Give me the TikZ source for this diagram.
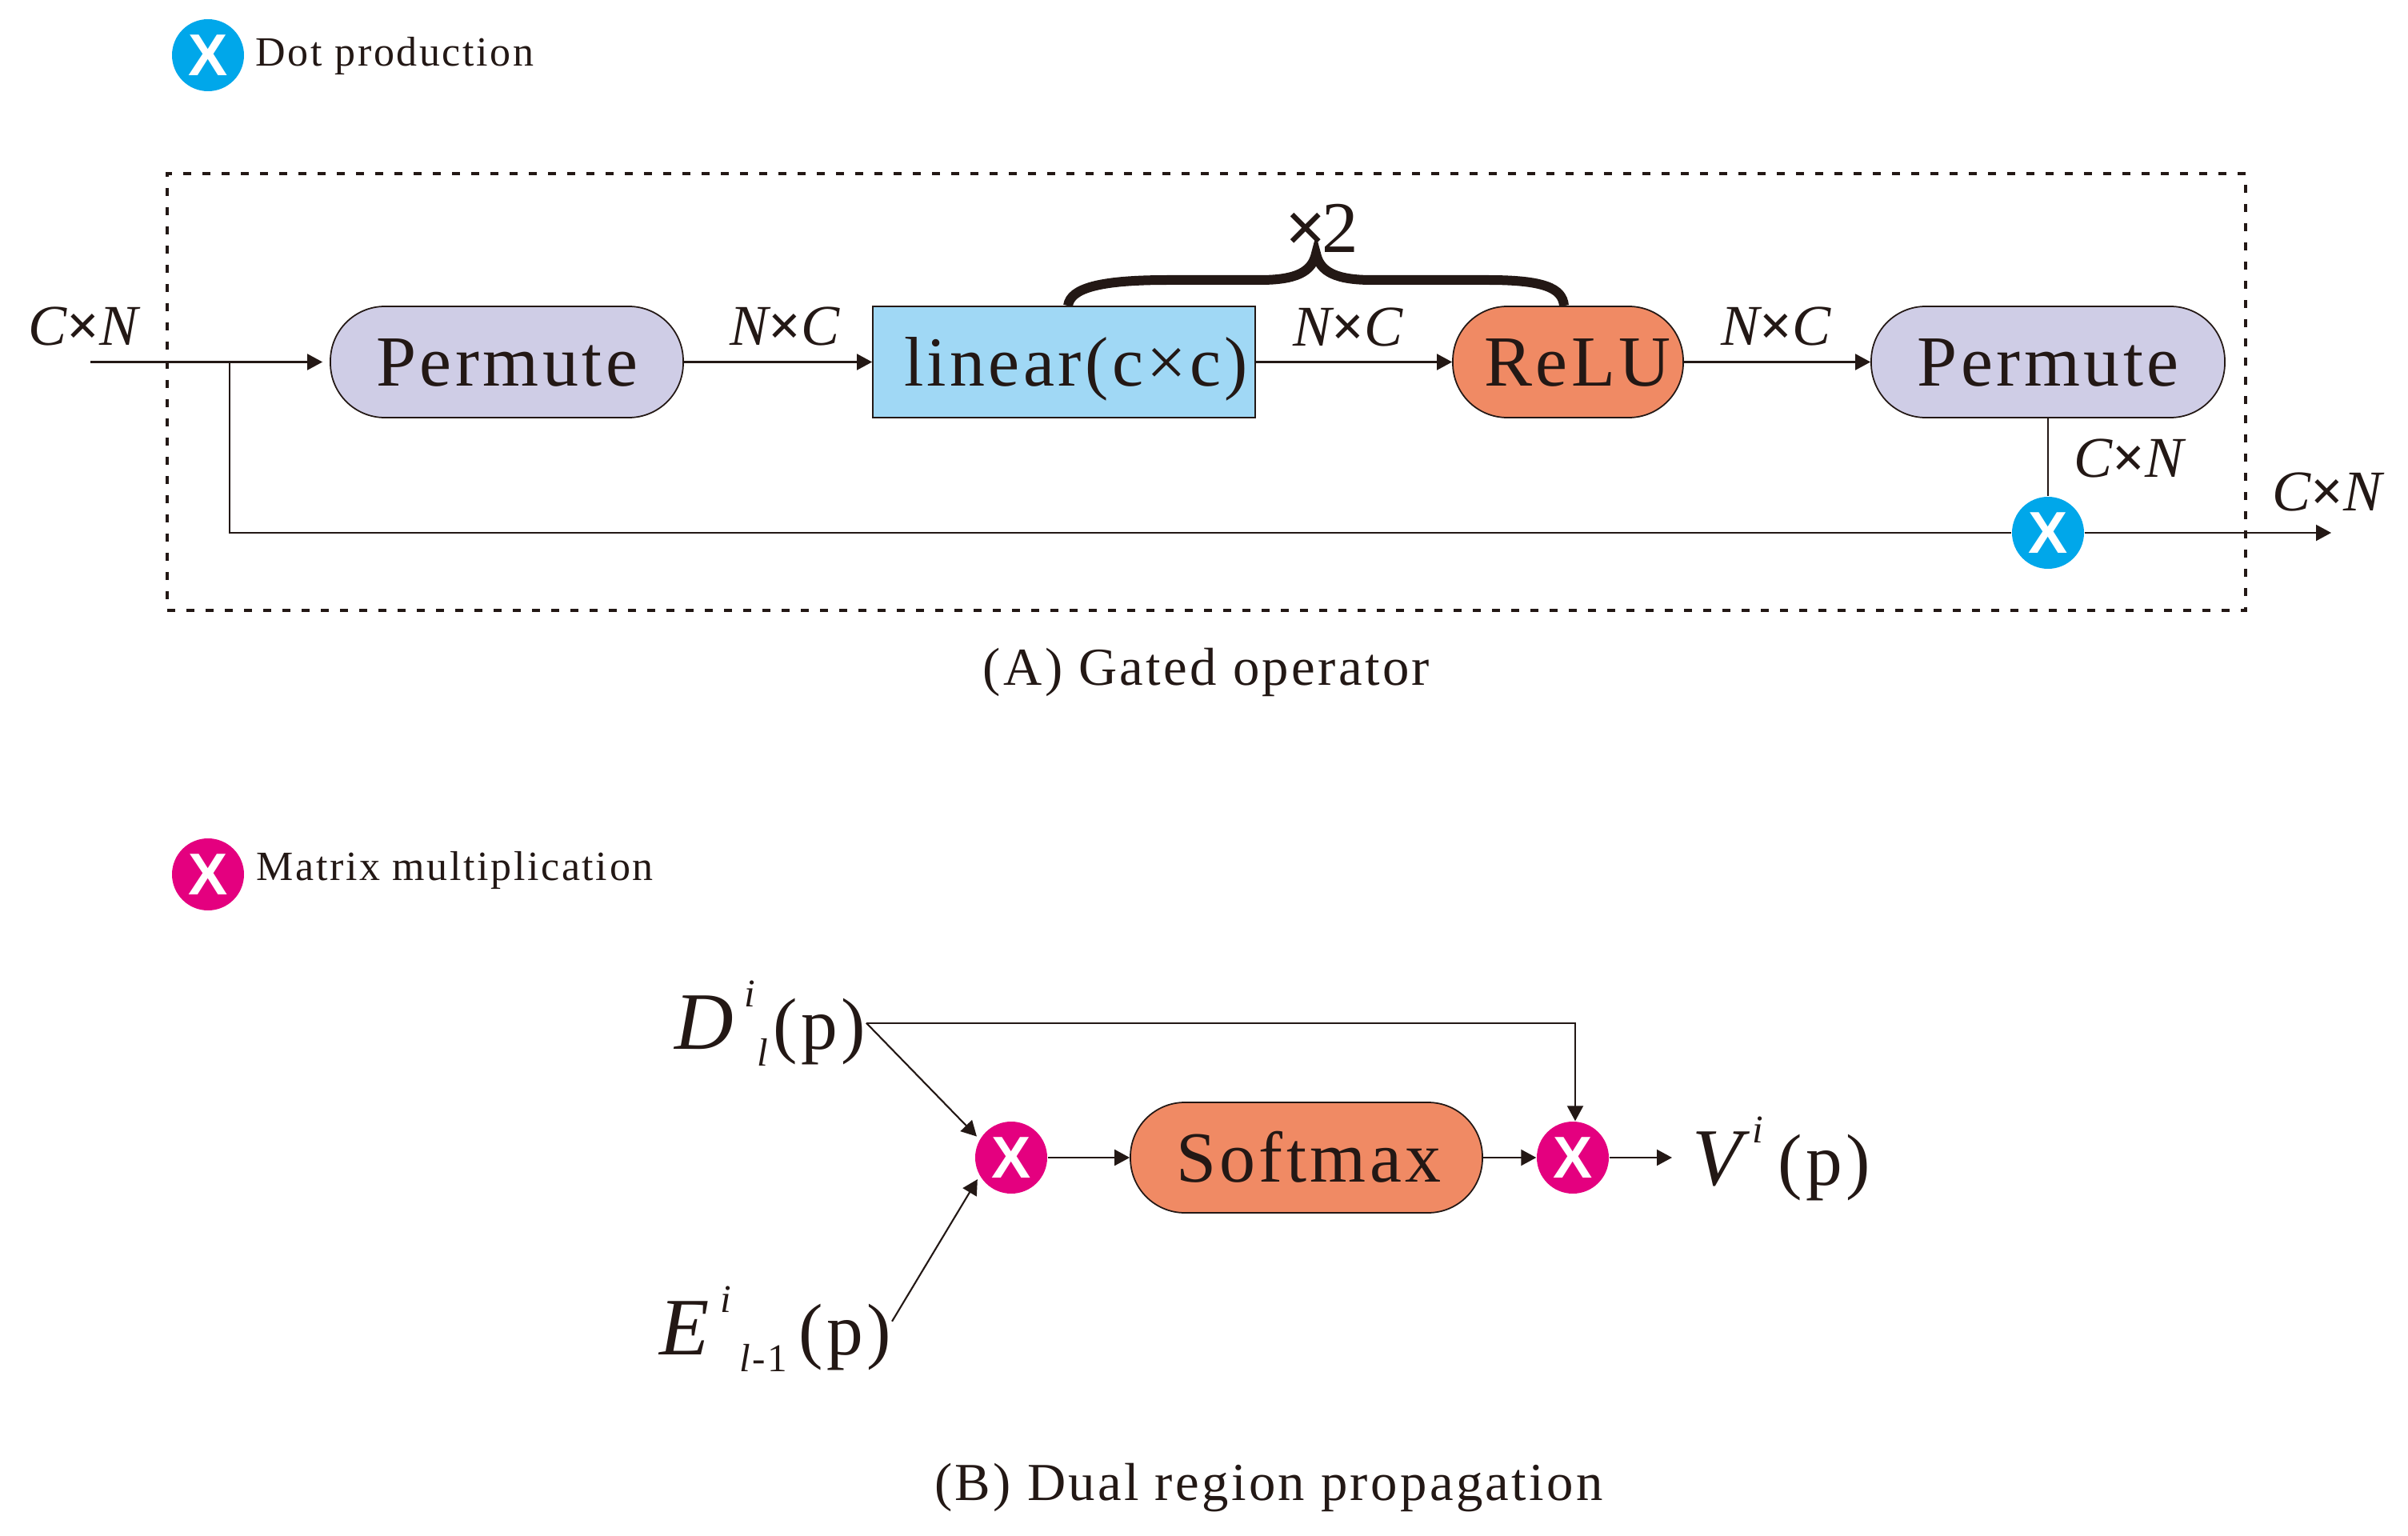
\documentclass[tikz,border=0pt]{standalone}
\usepackage{fontspec}
\setmainfont[LetterSpace=5]{Liberation Serif}
\newfontfamily\crossfont{Liberation Sans}
\usepackage{xcolor}
\usetikzlibrary{arrows.meta, calc, positioning}
\definecolor{inkc}{HTML}{231815}
\definecolor{lavc}{HTML}{CFCDE6}
\definecolor{skyc}{HTML}{A0D8F5}
\definecolor{coralc}{HTML}{F08A64}
\definecolor{dotc}{HTML}{00A7EA}
\definecolor{matc}{HTML}{E4007F}
% letter with index above and index below, then (p)
\newcommand{\maplabel}[3]{%
  {\fontsize{29}{32}\selectfont\textit{#1}}\kern.08cm%
  \rlap{\raisebox{.53cm}{\fontsize{14}{16}\selectfont\textit{i}}}%
  \kern.16cm\raisebox{-.21cm}{\fontsize{14}{16}\selectfont #2}\kern.04cm%
  {\fontsize{26}{30}\selectfont #3}}

\begin{document}
\begin{tikzpicture}[
  block/.style={draw=inkc, line width=0.5pt, rounded corners=0.68cm, minimum height=1.39cm,
                align=center, inner sep=0pt, text=inkc, text height=0.7cm, text depth=0.1cm,
                font=\fontsize{25.6}{28}\selectfont},
  cross/.style={circle, minimum size=0.9cm, inner sep=0pt, text=white,
                font=\crossfont\bfseries\fontsize{21}{24}\selectfont},
  arrow/.style={-{Triangle[length=0.19cm,width=0.2cm]}, draw=inkc, line width=0.6pt},
  wire/.style={draw=inkc, line width=0.6pt},
  dim/.style={text=inkc, inner sep=0pt, font=\itshape\fontsize{20.5}{24}\selectfont},
  note/.style={text=inkc, inner sep=0pt, anchor=west, font=\fontsize{14.8}{17}\selectfont},
  caption/.style={text=inkc, inner sep=0pt, font=\fontsize{19}{22}\selectfont},
  maptext/.style={text=inkc, inner sep=0pt, anchor=base west},
]
\useasboundingbox (0,0) rectangle (30.1,-19.2);

% Legends
\node[cross, fill=dotc] (dotkey) at (2.60,-0.69) {X};
\node[note] (dotnote) at (3.19,-0.70) {Dot production};
\node[cross, fill=matc] (matkey) at (2.60,-10.93) {X};
\node[note] (matnote) at (3.20,-10.88) {Matrix multiplication};

% Gated operator
\node[draw=inkc, line width=1.1pt, dash pattern=on 0.1cm off 0.14cm, minimum width=25.98cm,
      minimum height=5.46cm, inner sep=0pt] (frame) at (15.08,-4.90) {};
\node[block, fill=lavc, minimum width=4.41cm] (perma) at (6.335,-4.525) {Permute};
\node[block, fill=skyc, rounded corners=0pt, minimum width=4.78cm,
      font=\fontsize{25}{28}\selectfont] (linear) at (13.30,-4.525) {\hspace*{0.3cm}linear(c×c)};
\node[block, fill=coralc, minimum width=2.88cm] (relu) at (19.60,-4.525) {\hspace*{0.24cm}ReLU};
\node[block, fill=lavc, minimum width=4.42cm] (permb) at (25.60,-4.525) {Permute};
\node[cross, fill=dotc] (dotout) at (25.60,-6.66) {X};
\coordinate (in) at (1.13,-4.525);
\coordinate (branch) at (2.87,-4.525);
\coordinate (out) at (29.14,-6.66);
\coordinate (bracetip) at (16.45,-3.17);

% Arrows
\draw[arrow, shorten >=0.09cm] (in) -- (perma);
\draw[arrow] (perma) -- (linear);
\draw[arrow] (linear) -- (relu);
\draw[arrow] (relu) -- (permb);
\draw[wire] (permb) -- (dotout);
\draw[wire] (branch) |- (dotout);
\draw[arrow] (dotout) -- (out);

% Brace
\draw[draw=inkc, line width=0.12cm] ($(linear.north)+(0.05,0)$) .. controls (13.38,-3.60) and (13.75,-3.50) .. (14.60,-3.50)
  -- (15.75,-3.50) .. controls (16.20,-3.50) and (16.40,-3.40) .. (bracetip)
  .. controls (16.50,-3.40) and (16.70,-3.50) .. (17.15,-3.50)
  -- (18.60,-3.50) .. controls (19.30,-3.50) and (19.53,-3.60) .. ($(relu.north)+(-0.05,0)$);
\node[text=inkc, inner sep=0pt, font=\fontsize{25.9}{28}\selectfont] (times) at (16.52,-2.85) {{\bfseries ×}\kern-.06cm 2};

% Sizes
\node[dim] (sizea) at (1.04,-4.08) {C{\upshape\bfseries ×}N};
\node[dim] (sizeb) at (9.81,-4.08) {N{\upshape\bfseries ×}C};
\node[dim] (sizec) at (16.85,-4.09) {N{\upshape\bfseries ×}C};
\node[dim] (sized) at (22.20,-4.08) {N{\upshape\bfseries ×}C};
\node[dim] (sizee) at (26.61,-5.73) {C{\upshape\bfseries ×}N};
\node[dim] (sizef) at (29.09,-6.15) {C{\upshape\bfseries ×}N};
\node[caption] (capa) at (15.08,-8.40) {(A) Gated operator};

% Dual region propagation
\node[block, fill=coralc, minimum width=4.40cm, minimum height=1.38cm] (softmax) at (16.33,-14.47) {\hspace*{0.06cm}Softmax};
\node[cross, fill=matc] (pinka) at (12.64,-14.47) {X};
\node[cross, fill=matc] (pinkb) at (19.66,-14.47) {X};
\node[maptext] (dmap) at (8.43,-13.11) {\maplabel{D}{\textit{l}}{(p)}};
\node[maptext] (emap) at (8.24,-16.93) {\maplabel{E}{\kern.08cm\textit{l}-1\kern.11cm}{(p)}};
\node[maptext] (vmap) at (21.15,-14.81) {{\fontsize{29}{32}\selectfont\textit{V}}\kern-.02cm\raisebox{.53cm}{\fontsize{14}{16}\selectfont\textit{i}}\kern.15cm{\fontsize{26}{30}\selectfont (p)}};
\coordinate (vend) at (20.90,-14.47);
\draw[arrow] (softmax) -- (pinkb);
\draw[arrow] (pinka) -- (softmax);
\draw[arrow] (pinkb) -- (vend);
\draw[arrow] (dmap.east) -| ([xshift=0.03cm]pinkb.north);
\draw[arrow, shorten >=0.05cm] (dmap.east) -- (pinka.150);
\draw[arrow, shorten >=0.05cm] ([yshift=0.09cm]emap.east) -- (pinka.210);
\node[caption] (capb) at (15.86,-18.60) {(B) Dual region propagation};
\end{tikzpicture}
\end{document}
